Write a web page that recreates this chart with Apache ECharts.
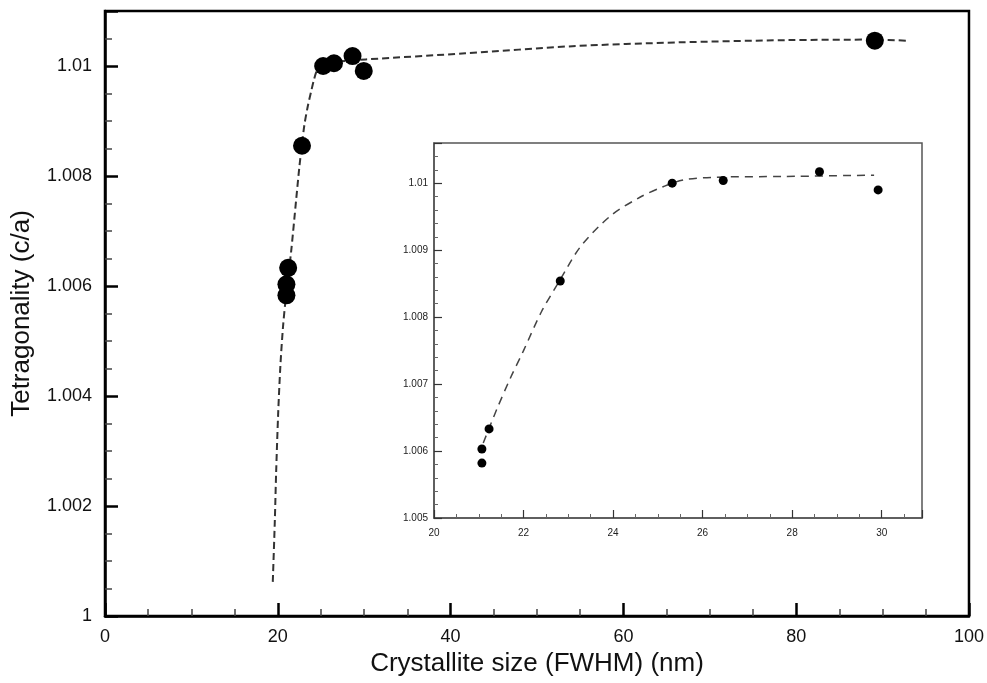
<!DOCTYPE html>
<html>
<head>
<meta charset="utf-8">
<script src="https://cdn.jsdelivr.net/npm/echarts@6/dist/echarts.min.js"></script>
<style>
html,body{margin:0;padding:0;background:#fff;}
#chart{width:987px;height:683px;}
</style>
</head>
<body>
<div id="chart"></div>
<script>
// Measured points: crystallite size (nm) and tetragonality c/a
var sizeMain = [21.0, 21.0, 21.2, 22.8, 25.25, 26.5, 28.65, 29.95, 89.1];
var ratioMain = [1.00583, 1.00603, 1.00633, 1.00855, 1.0100, 1.01005, 1.01018, 1.00991, 1.01046];

// Inset points (same samples, 20-31 nm range)
var sizeInset = [21.07, 21.07, 21.23, 22.82, 25.32, 26.46, 28.61, 29.92];
var ratioInset = [1.00582, 1.00603, 1.00633, 1.00854, 1.0100, 1.01004, 1.01017, 1.0099];

// Fitted (dashed) curve, main plot
var fitSizeMain = [19.42, 19.65, 19.81, 20.04, 20.3, 20.6, 20.9, 21.2, 21.54, 22.12, 22.5, 22.8, 23.08, 23.46, 23.85, 24.2, 24.5, 24.9, 25.5, 27, 28.5, 30.2, 41.7, 54.1, 66.5, 78.8, 89.1, 92.7];
var fitRatioMain = [1.00062, 1.0017, 1.00262, 1.00367, 1.00455, 1.00525, 1.00575, 1.00618, 1.00662, 1.00756, 1.00817, 1.00858, 1.00893, 1.00926, 1.00953, 1.00976, 1.00991, 1.01001, 1.01005, 1.01008, 1.0101, 1.01012, 1.01023, 1.01036, 1.01043, 1.01047, 1.01048, 1.01046];

// Fitted (dashed) curve, inset
var fitSizeInset = [21.1, 21.4, 21.7, 22.0, 22.4, 22.82, 23.27, 23.94, 24.6, 25.13, 25.58, 26.32, 27.81, 29.83];
var fitRatioInset = [1.00612, 1.00662, 1.00708, 1.0075, 1.00808, 1.00856, 1.00905, 1.00951, 1.00979, 1.00995, 1.01005, 1.01009, 1.0101, 1.01012];

// Axis settings
var mainX = {min: 0, max: 100, interval: 20};
var mainY = {min: 1, max: 1.011, interval: 0.002};
var insetX = {min: 20, max: 30.9, interval: 2};
var insetY = {min: 1.005, max: 1.0106, interval: 0.001};

var xAxisTitle = 'Crystallite size (FWHM) (nm)';
var yAxisTitle = 'Tetragonality (c/a)';

function zip(a, b) { return a.map(function (v, i) { return [v, b[i]]; }); }

var FONT = 'Liberation Sans';
var chart = echarts.init(document.getElementById('chart'), null, {renderer: 'canvas'});

var option = {
  animation: false,
  backgroundColor: '#fff',
  grid: [
    {left: 105, top: 11, width: 867, height: 605, show: true, borderColor: '#000', borderWidth: 2.5, backgroundColor: 'transparent', containLabel: false},
    {left: 434, top: 143, width: 488, height: 375, show: true, borderColor: '#555', borderWidth: 1.5, backgroundColor: '#fff', containLabel: false}
  ],
  xAxis: [
    {
      type: 'value', gridIndex: 0, min: mainX.min, max: mainX.max, interval: mainX.interval,
      name: xAxisTitle, nameLocation: 'middle', nameGap: 35,
      nameTextStyle: {fontFamily: FONT, fontSize: 26, color: '#111'},
      axisLine: {show: true, onZero: false, lineStyle: {color: '#000', width: 2.5}},
      axisTick: {show: true, inside: true, length: 13, lineStyle: {color: '#000', width: 2.5}},
      minorTick: {show: true, splitNumber: 4, length: 7, lineStyle: {color: '#444', width: 1.5}},
      axisLabel: {fontFamily: FONT, fontSize: 18, color: '#111', margin: 12},
      splitLine: {show: false}
    },
    {
      type: 'value', gridIndex: 1, min: insetX.min, max: insetX.max, interval: insetX.interval,
      axisLine: {show: true, onZero: false, lineStyle: {color: '#555', width: 1.5}},
      axisTick: {show: true, inside: true, length: 8, lineStyle: {color: '#333', width: 1.2}},
      minorTick: {show: true, splitNumber: 4, length: 4, lineStyle: {color: '#666', width: 1}},
      axisLabel: {fontFamily: FONT, fontSize: 10, color: '#222', margin: 10, showMaxLabel: false},
      splitLine: {show: false}
    }
  ],
  yAxis: [
    {
      type: 'value', gridIndex: 0, min: mainY.min, max: mainY.max, interval: mainY.interval,
      name: yAxisTitle, nameLocation: 'middle', nameGap: 70, nameRotate: 90,
      nameTextStyle: {fontFamily: FONT, fontSize: 26, color: '#111'},
      axisLine: {show: true, onZero: false, lineStyle: {color: '#000', width: 2.5}},
      axisTick: {show: true, inside: true, length: 13, lineStyle: {color: '#000', width: 2.5}},
      minorTick: {show: true, splitNumber: 4, length: 7, lineStyle: {color: '#444', width: 1.5}},
      axisLabel: {fontFamily: FONT, fontSize: 18, color: '#111', margin: 13, showMaxLabel: false},
      splitLine: {show: false}
    },
    {
      type: 'value', gridIndex: 1, min: insetY.min, max: insetY.max, interval: insetY.interval,
      axisLine: {show: true, onZero: false, lineStyle: {color: '#555', width: 1.5}},
      axisTick: {show: true, inside: true, length: 8, lineStyle: {color: '#333', width: 1.2}},
      minorTick: {show: true, splitNumber: 5, length: 4, lineStyle: {color: '#666', width: 1}},
      axisLabel: {fontFamily: FONT, fontSize: 10, color: '#222', margin: 6, showMaxLabel: false},
      splitLine: {show: false}
    }
  ],
  series: [
    {
      type: 'line', xAxisIndex: 0, yAxisIndex: 0, data: zip(fitSizeMain, fitRatioMain),
      smooth: 0.3, showSymbol: false, symbol: 'none', z: 2,
      lineStyle: {color: '#333', width: 2, type: [7, 4]}
    },
    {
      type: 'scatter', xAxisIndex: 0, yAxisIndex: 0, data: zip(sizeMain, ratioMain),
      symbol: 'circle', symbolSize: 18, z: 3,
      itemStyle: {color: '#000', opacity: 1}
    },
    {
      type: 'line', xAxisIndex: 1, yAxisIndex: 1, data: zip(fitSizeInset, fitRatioInset),
      smooth: 0.3, showSymbol: false, symbol: 'none', z: 4,
      lineStyle: {color: '#444', width: 1.5, type: [8, 6]}
    },
    {
      type: 'scatter', xAxisIndex: 1, yAxisIndex: 1, data: zip(sizeInset, ratioInset),
      symbol: 'circle', symbolSize: 9, z: 5,
      itemStyle: {color: '#000', opacity: 1}
    }
  ]
};
chart.setOption(option);
</script>
</body>
</html>
